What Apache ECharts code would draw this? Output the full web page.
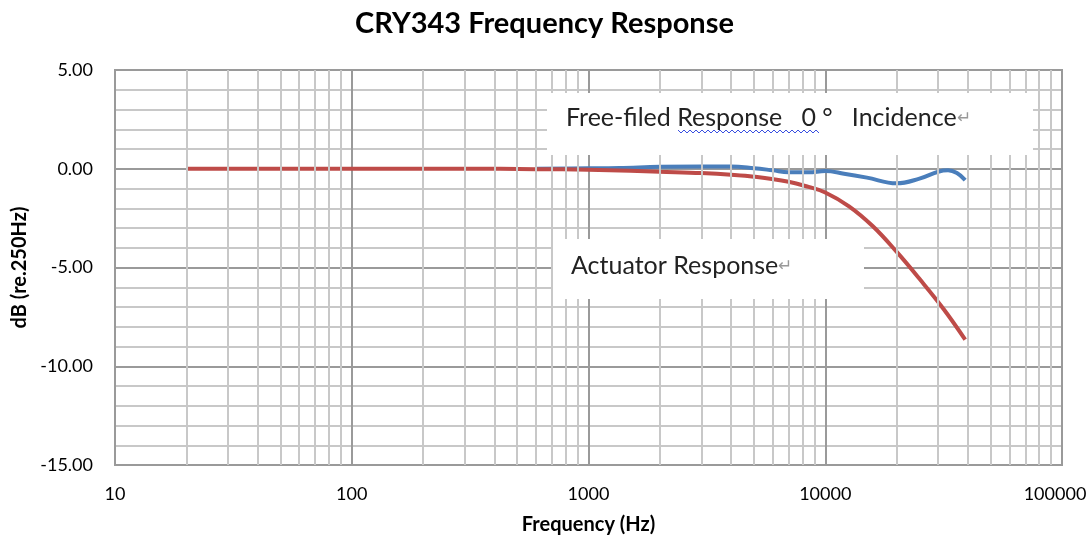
<!DOCTYPE html>
<html>
<head>
<meta charset="utf-8">
<script src="https://cdn.jsdelivr.net/npm/echarts@6/dist/echarts.min.js"></script>
<style>
  html, body { margin: 0; padding: 0; background: #fff; }
  #chart { width: 1089px; height: 538px; }
</style>
</head>
<body>
<div id="chart"></div>
<script>
// 数据：频率 (Hz) 和 响应 (dB)
var actuatorFreq = [20, 100, 300, 600, 1000, 1500, 2000, 3000, 4000, 5000, 7000, 8500, 10000, 12600, 15850, 20000, 25100, 31600, 39000];
var actuatorDb   = [0, 0, 0, -0.02, -0.05, -0.1, -0.15, -0.22, -0.3, -0.4, -0.66, -0.92, -1.2, -1.9, -2.9, -4.2, -5.6, -7.1, -8.65];

var freeFieldFreq = [600, 1000, 1350, 2000, 3000, 4000, 5000, 6000, 7000, 8500, 10000, 12000, 15000, 20000, 25000, 30000, 33000, 36000, 39000];
var freeFieldDb   = [0, 0.02, 0.04, 0.1, 0.12, 0.12, 0.03, -0.08, -0.18, -0.18, -0.12, -0.25, -0.45, -0.74, -0.5, -0.15, -0.08, -0.22, -0.58];

var minorFreqs = [];
[10, 100, 1000, 10000].forEach(function (d) {
  for (var k = 2; k <= 9; k++) minorFreqs.push(d * k);
});

function pairs(xs, ys) {
  return xs.map(function (x, i) { return [x, ys[i]]; });
}

var myChart = echarts.init(document.getElementById('chart'));
var font = 'Lato, Carlito, sans-serif';

var option = {
  animation: false,
  title: {
    text: 'CRY343 Frequency Response',
    left: 'center',
    top: 4,
    textStyle: { fontFamily: font, fontWeight: 'bold', fontSize: 29, color: '#000' }
  },
  grid: {
    left: 115, right: 27, top: 70, bottom: 73,
    outerBoundsMode: 'none',
    show: true, borderColor: '#9a9a9a', borderWidth: 2
  },
  xAxis: {
    type: 'log',
    logBase: 10,
    min: 10,
    max: 100000,
    name: 'Frequency (Hz)',
    nameLocation: 'middle',
    nameGap: 50,
    nameTextStyle: { fontFamily: font, fontWeight: 'bold', fontSize: 20, color: '#000' },
    axisLine: { show: false },
    axisTick: { show: false },
    axisLabel: {
      margin: 20,
      fontFamily: font, fontSize: 18, color: '#000',
      formatter: function (v) {
        var s = String(Math.round(v));
        return v >= 99999 ? '{r|' + s + '}' : s;
      },
      rich: {
        r: { fontFamily: font, fontSize: 18, color: '#000', padding: [0, 14, 0, 0] }
      }
    },
    splitLine: { show: true, lineStyle: { color: '#9a9a9a', width: 2 } }
  },
  yAxis: {
    type: 'value',
    min: -15,
    max: 5,
    interval: 1,
    name: 'dB (re.250Hz)',
    nameLocation: 'middle',
    nameGap: 85,
    nameTextStyle: { fontFamily: font, fontWeight: 'bold', fontSize: 20, color: '#000' },
    axisLine: { show: false },
    axisTick: { show: false },
    axisLabel: {
      margin: 22,
      fontFamily: font, fontSize: 18, color: '#000',
      formatter: function (v) { return (Math.round(v) % 5 === 0) ? v.toFixed(2) : ''; }
    },
    splitLine: {
      show: true,
      lineStyle: { color: ['#9a9a9a', '#c8c8c8', '#c8c8c8', '#c8c8c8', '#c8c8c8'], width: 2 }
    }
  },
  series: [
    {
      name: 'minor',
      type: 'line',
      data: [],
      z: 1,
      silent: true,
      markLine: {
        silent: true,
        symbol: 'none',
        label: { show: false },
        lineStyle: { type: 'solid', color: '#c8c8c8', width: 2 },
        data: minorFreqs.map(function (f) { return { xAxis: f }; })
      }
    },
    {
      name: 'Free-filed Response',
      type: 'line',
      smooth: 0.4,
      showSymbol: false,
      data: pairs(freeFieldFreq, freeFieldDb),
      lineStyle: { color: '#4a7ebb', width: 4 },
      itemStyle: { color: '#4a7ebb' },
      z: 3
    },
    {
      name: 'Actuator Response',
      type: 'line',
      smooth: 0.4,
      showSymbol: false,
      data: pairs(actuatorFreq, actuatorDb),
      lineStyle: { color: '#be4b48', width: 4 },
      itemStyle: { color: '#be4b48' },
      z: 4
    }
  ],
  graphic: [
    {
      type: 'rect',
      shape: { x: 547, y: 93, width: 486, height: 62 },
      style: { fill: '#fff' },
      z: 50
    },
    {
      type: 'text',
      x: 566, y: 118,
      style: {
        text: '{a|Free-filed Response   0 °   Incidence}{b|↵}',
        verticalAlign: 'middle',
        rich: {
          a: { fontFamily: font, fontSize: 25, fill: '#222' },
          b: { fontFamily: font, fontSize: 17, fill: '#999' }
        }
      },
      z: 51
    },
    {
      type: 'polyline',
      shape: {
        points: (function () {
          var pts = [];
          for (var x = 678; x <= 820; x += 3) pts.push([x, (Math.round((x - 678) / 3) % 2) ? 133 : 130]);
          return pts;
        })()
      },
      style: { stroke: '#3a50e0', lineWidth: 1, fill: null },
      z: 51
    },
    {
      type: 'rect',
      shape: { x: 553, y: 239, width: 311, height: 60 },
      style: { fill: '#fff' },
      z: 50
    },
    {
      type: 'text',
      x: 571, y: 266,
      style: {
        text: '{a|Actuator Response}{b|↵}',
        verticalAlign: 'middle',
        rich: {
          a: { fontFamily: font, fontSize: 25, fill: '#222' },
          b: { fontFamily: font, fontSize: 17, fill: '#999' }
        }
      },
      z: 51
    }
  ]
};

myChart.setOption(option);
</script>
</body>
</html>
